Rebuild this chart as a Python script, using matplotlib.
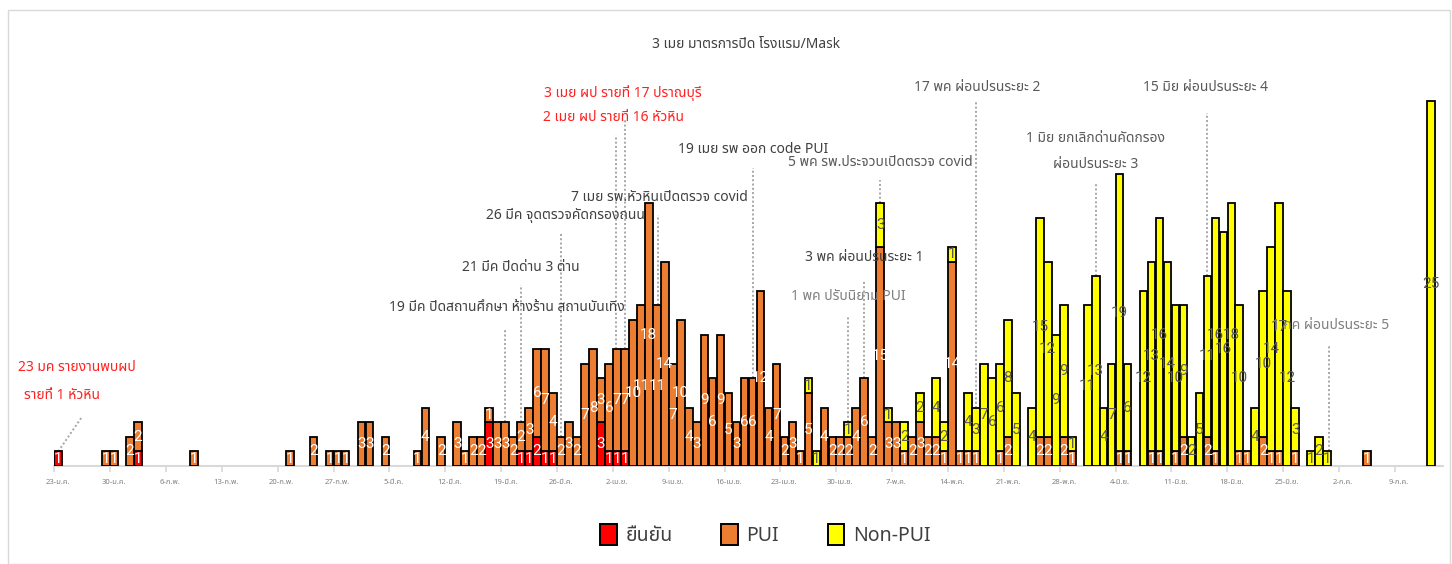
import numpy as np
import pandas as pd
import matplotlib
matplotlib.use('Agg')
import matplotlib.pyplot as plt
from matplotlib import font_manager as fm
from matplotlib.ft2font import FT2Font
from matplotlib.patches import Patch


def find_thai_font():
    preferred = ['Leelawadee UI', 'Leelawadee', 'Tahoma', 'Noto Sans Thai', 'Noto Sans Thai UI',
                 'Noto Sans Thai Looped', 'Loma', 'Garuda', 'Sarabun', 'Waree', 'Umpush',
                 'Kinnari', 'Norasi', 'Laksaman', 'Tlwg Typo']
    found = {}
    for f in fm.fontManager.ttflist:
        if f.name in found:
            continue
        try:
            cm = FT2Font(f.fname).get_charmap()
            if 0x0E01 in cm and 0x0E22 in cm and 0x0E40 in cm:
                found[f.name] = f.fname
        except Exception:
            pass
    for p in preferred:
        if p in found:
            return p
    return sorted(found)[0] if found else None


thai = find_thai_font()
FAMS = ([thai] if thai else []) + ['DejaVu Sans']
plt.rcParams['font.family'] = FAMS

# ---------------- data (one value per day, starting 23 Jan 2020) ----------------
dates = pd.date_range('2020-01-23', periods=173, freq='D')

confirmed = [
    1, 0, 0, 0, 0, 0, 0,
    0, 0, 0, 1, 0, 0, 0,
    0, 0, 0, 0, 0, 0, 0,
    0, 0, 0, 0, 0, 0, 0,
    0, 0, 0, 0, 0, 0, 0,
    0, 0, 0, 0, 0, 0, 0,
    0, 0, 0, 0, 0, 0, 0,
    0, 0, 0, 0, 0, 3, 0,
    0, 0, 1, 1, 2, 1, 1,
    0, 0, 0, 0, 0, 3, 1,
    1, 1, 0, 0, 0, 0, 0,
    0, 0, 0, 0, 0, 0, 0,
    0, 0, 0, 0, 0, 0, 0,
    0, 0, 0, 0, 0, 0, 0,
    0, 0, 0, 0, 0, 0, 0,
    0, 0, 0, 0, 0, 0, 0,
    0, 0, 0, 0, 0, 0, 0,
    0, 0, 0, 0, 0, 0, 0,
    0, 0, 0, 0, 0, 0, 0,
    0, 0, 0, 0, 0, 0, 0,
    0, 0, 0, 0, 0, 0, 0,
    0, 0, 0, 0, 0, 0, 0,
    0, 0, 0, 0, 0, 0, 0,
    0, 0, 0, 0, 0, 0, 0,
    0, 0, 0, 0, 0,
]

pui = [
    0, 0, 0, 0, 0, 0, 1,
    1, 0, 2, 2, 0, 0, 0,
    0, 0, 0, 1, 0, 0, 0,
    0, 0, 0, 0, 0, 0, 0,
    0, 1, 0, 0, 2, 0, 1,
    1, 1, 0, 3, 3, 0, 2,
    0, 0, 0, 1, 4, 0, 2,
    0, 3, 1, 2, 2, 1, 3,
    3, 2, 2, 3, 6, 7, 4,
    2, 3, 2, 7, 8, 3, 6,
    7, 7, 10, 11, 18, 11, 14,
    7, 10, 4, 3, 9, 6, 9,
    5, 3, 6, 6, 12, 4, 7,
    2, 3, 1, 5, 0, 4, 2,
    2, 2, 4, 6, 2, 15, 3,
    3, 1, 2, 3, 2, 2, 1,
    14, 1, 1, 1, 0, 0, 1,
    2, 0, 0, 0, 2, 2, 0,
    2, 1, 0, 0, 0, 0, 0,
    1, 1, 0, 0, 1, 1, 0,
    1, 2, 0, 0, 2, 1, 0,
    0, 1, 1, 0, 2, 1, 1,
    0, 1, 0, 0, 0, 0, 0,
    0, 0, 0, 1, 0, 0, 0,
    0, 0, 0, 0, 0,
]

non_pui = [
    0, 0, 0, 0, 0, 0, 0,
    0, 0, 0, 0, 0, 0, 0,
    0, 0, 0, 0, 0, 0, 0,
    0, 0, 0, 0, 0, 0, 0,
    0, 0, 0, 0, 0, 0, 0,
    0, 0, 0, 0, 0, 0, 0,
    0, 0, 0, 0, 0, 0, 0,
    0, 0, 0, 0, 0, 0, 0,
    0, 0, 0, 0, 0, 0, 0,
    0, 0, 0, 0, 0, 0, 0,
    0, 0, 0, 0, 0, 0, 0,
    0, 0, 0, 0, 0, 0, 0,
    0, 0, 0, 0, 0, 0, 0,
    0, 0, 0, 1, 1, 0, 0,
    0, 1, 0, 0, 0, 3, 1,
    0, 2, 0, 2, 0, 4, 2,
    1, 0, 4, 3, 7, 6, 6,
    8, 5, 0, 4, 15, 12, 9,
    9, 1, 0, 11, 13, 4, 7,
    19, 6, 0, 12, 13, 16, 14,
    10, 9, 2, 5, 11, 16, 16,
    18, 10, 0, 4, 10, 14, 17,
    12, 3, 0, 1, 2, 1, 0,
    0, 0, 0, 0, 0, 0, 0,
    0, 0, 0, 0, 25,
]

tick_labels = ['23-ม.ค.', '30-ม.ค.', '6-ก.พ.', '13-ก.พ.', '20-ก.พ.', '27-ก.พ.', '5-มี.ค.',
               '12-มี.ค.', '19-มี.ค.', '26-มี.ค.', '2-เม.ย.', '9-เม.ย.', '16-เม.ย.',
               '23-เม.ย.', '30-เม.ย.', '7-พ.ค.', '14-พ.ค.', '21-พ.ค.', '28-พ.ค.',
               '4-มิ.ย.', '11-มิ.ย.', '18-มิ.ย.', '25-มิ.ย.', '2-ก.ค.', '9-ก.ค.']

series_names = ['ยืนยัน', 'PUI', 'Non-PUI']

# events: date, text
event_dates = ['2020-03-19', '2020-03-21', '2020-03-26', '2020-04-02', '2020-04-03',
               '2020-04-07', '2020-04-19', '2020-05-01', '2020-05-03', '2020-05-05',
               '2020-05-17', '2020-06-01', '2020-06-15', '2020-06-30']
event_texts = ['19 มีค ปิดสถานศึกษา ห้างร้าน สถานบันเทิง', '21 มีค ปิดด่าน 3 ด่าน',
               '26 มีค จุดตรวจคัดกรองถนน', '2 เมย ผป รายที่ 16 หัวหิน',
               '3 เมย ผป รายที่ 17 ปราณบุรี', '7 เมย รพ.หัวหินเปิดตรวจ covid',
               '19 เมย รพ ออก code PUI', '1 พค ปรับนิยาม PUI', '3 พค ผ่อนปรนระยะ 1',
               '5 พค รพ.ประจวบเปิดตรวจ covid', '17 พค ผ่อนปรนระยะ 2',
               '1 มิย ยกเลิกด่านคัดกรอง\nผ่อนปรนระยะ 3', '15 มิย ผ่อนปรนระยะ 4',
               '1 กค ผ่อนปรนระยะ 5']

# ---------------- layout / style ----------------
ev_label_dx = [0.2, 0.0, 0.5, -0.4, -0.2, 0.3, 0.05, 0.0, 0.0, 0.0, 0.1, 0.0, -0.2, 0.4]
ev_label_y = [10.84, 13.58, 17.19, 23.84, 25.57, 18.36, 21.7, 11.6, 14.3, 20.77, 25.9, 21.55, 25.9, 9.6]
ev_line_top = [9.45, 12.4, 16.05, 22.7, 23.7, 17.2, 20.4, 10.2, 12.7, 19.6, 24.9, 19.4, 24.2, 8.2]
ev_color = ['#404040', '#404040', '#404040', '#FF2020', '#FF2020', '#404040', '#404040',
            '#7F7F7F', '#404040', '#595959', '#595959', '#595959', '#595959', '#7F7F7F']
ev_line_dx = [0, 0, 0, -0.1, 0, 0.2, 0, 0, 0, 0, 0, 0, 0, 0.3]

C_CONF, C_PUI, C_NON = '#FF0000', '#ED7D31', '#FFFF00'

conf = np.array(confirmed)
p = np.array(pui)
n = np.array(non_pui)
total = conf + p + n
x = np.arange(len(dates))
start = dates[0]

fig = plt.figure(figsize=(14.52, 5.64), dpi=100)
W, H = 1452, 564
ax = fig.add_axes([54.3 / W, 98 / H, 1388.5 / W, 438 / H])
ax.set_xlim(-0.5, 173.5)
ax.set_ylim(0, 30)

# figure border
fig.add_artist(plt.Rectangle((8 / W, 0.5 / H), 1442 / W, 554 / H, transform=fig.transFigure,
                             fill=False, edgecolor='#D9D9D9', lw=1.0))

bw = 0.96
lw = 1.3
num_font = dict(family=['Roboto', 'DejaVu Sans'], fontsize=11)

for vals, bottoms, col, tcol in [(conf, np.zeros_like(conf), C_CONF, 'white'),
                                 (p, conf, C_PUI, 'white'),
                                 (n, conf + p, C_NON, '#595959')]:
    idx = np.nonzero(vals)[0]
    ax.bar(x[idx], vals[idx], bottom=bottoms[idx], width=bw, color=col,
           edgecolor='black', linewidth=lw, zorder=3)
    for i in idx:
        ax.text(x[i], bottoms[i] + vals[i] / 2, str(vals[i]), ha='center', va='center',
                color=tcol, zorder=5, **num_font)

# event annotations
dot = dict(color='#A6A6A6', linestyle=(0, (1, 1.2)), linewidth=1.4, zorder=2)
for d, t, dx, ly, ltop, col, ldx in zip(event_dates, event_texts, ev_label_dx, ev_label_y,
                                        ev_line_top, ev_color, ev_line_dx):
    di = (pd.Timestamp(d) - start).days
    ax.plot([di + ldx, di + ldx], [total[di], ltop], **dot)
    ax.text(di + dx, ly, t, ha='center', va='center', color=col, fontsize=10,
            linespacing=2.0, zorder=6)

ax.text(86.2, 28.9, '3 เมย มาตรการปิด โรงแรม/Mask', ha='center', va='center',
        color='#404040', fontsize=10, zorder=6)

# first case annotation
ax.plot([0, 2.93], [total[0], 3.34], **dot)
ax.text(2.3, 6.78, '23 มค รายงานพบผป', ha='center', va='center', color='#FF2020', fontsize=10)
ax.text(0.5, 4.86, 'รายที่ 1 หัวหิน', ha='center', va='center', color='#FF2020', fontsize=10)

# axes styling
for s in ['top', 'right', 'left']:
    ax.spines[s].set_visible(False)
ax.spines['bottom'].set_color('#D9D9D9')
ax.spines['bottom'].set_linewidth(1.5)
ax.set_yticks([])
ax.set_xticks(x[::7])
ax.set_xticklabels(tick_labels, fontsize=5.5, color='#808080')
ax.set_xticks(np.arange(-0.5, 174, 7), minor=True)
ax.tick_params(axis='x', which='major', length=0, pad=9)
ax.tick_params(axis='x', which='minor', length=4, color='#D9D9D9', width=1.2)

handles = [Patch(facecolor=c, edgecolor='black', linewidth=1.4, label=l)
           for c, l in zip([C_CONF, C_PUI, C_NON], series_names)]
fig.legend(handles=handles, loc='center', bbox_to_anchor=(0.527, 0.051), ncol=3,
           frameon=False, fontsize=14, handlelength=0.85, handleheight=1.25,
           handletextpad=0.45, columnspacing=2.5, labelcolor='#404040')

fig.savefig('out.png', dpi=100)
